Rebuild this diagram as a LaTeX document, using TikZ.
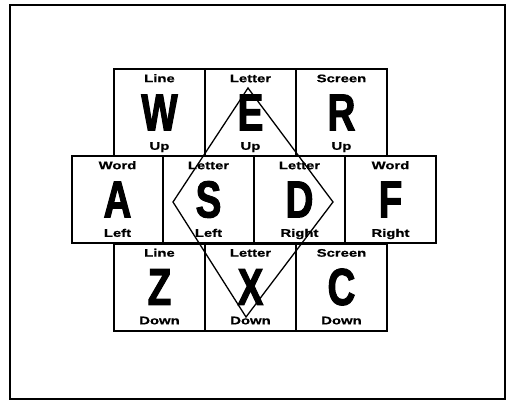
\documentclass[tikz,border=0pt]{standalone}
\usepackage{fontspec}
\setmainfont{Liberation Sans}
\newfontfamily\capfont[FakeStretch=0.74, FakeBold=2]{Liberation Sans Bold}
\newfontfamily\tagfont[FakeStretch=1.35, FakeBold=0.7]{Liberation Sans Bold}
\usetikzlibrary{positioning}

\begin{document}
\begin{tikzpicture}[x=1pt, y=-1pt,
  keycap/.style={rectangle, draw, line width=2pt, outer sep=0pt,
                 minimum width=91pt, minimum height=87pt, inner sep=0pt,
                 font=\capfont\fontsize{52}{52}\selectfont},
  tag/.style={inner sep=0pt, text height=8pt, text depth=2pt,
              font=\tagfont\fontsize{11}{11}\selectfont}
]
  \useasboundingbox (0,0) rectangle (507,402);
  \draw[line width=1.3pt] (10,5) rectangle (505,399);

  % top row
  \node[keycap] (w) at (159.5,112.5) {W};
  \node[keycap, right=0pt of w] (e) {E};
  \node[keycap, right=0pt of e] (r) {R};
  % home row
  \node[keycap] (a) at (117.5,199.5) {A};
  \node[keycap, right=0pt of a] (s) {S};
  \node[keycap, right=0pt of s] (d) {D};
  \node[keycap, right=0pt of d] (f) {F};
  % bottom row
  \node[keycap] (z) at (159.5,287) {Z};
  \node[keycap, right=0pt of z] (x) {X};
  \node[keycap, right=0pt of x] (c) {C};

  % what each key moves
  \node[tag, below=5pt of w.north] (wtop) {Line};
  \node[tag, above=4pt of w.south] (wbot) {Up};
  \node[tag, below=5pt of e.north] (etop) {Letter};
  \node[tag, above=4pt of e.south] (ebot) {Up};
  \node[tag, below=5pt of r.north] (rtop) {Screen};
  \node[tag, above=4pt of r.south] (rbot) {Up};
  \node[tag, below=5pt of a.north] (atop) {Word};
  \node[tag, above=4pt of a.south] (abot) {Left};
  \node[tag, below=5pt of s.north] (stop) {Letter};
  \node[tag, above=4pt of s.south] (sbot) {Left};
  \node[tag, below=5pt of d.north] (dtop) {Letter};
  \node[tag, above=4pt of d.south] (dbot) {Right};
  \node[tag, below=5pt of f.north] (ftop) {Word};
  \node[tag, above=4pt of f.south] (fbot) {Right};
  \node[tag, below=5pt of z.north] (ztop) {Line};
  \node[tag, above=4pt of z.south] (zbot) {Down};
  \node[tag, below=5pt of x.north] (xtop) {Letter};
  \node[tag, above=4pt of x.south] (xbot) {Down};
  \node[tag, below=5pt of c.north] (ctop) {Screen};
  \node[tag, above=4pt of c.south] (cbot) {Down};

  % diamond round the cursor keys
  \coordinate (dn) at (248,88);
  \coordinate (dw) at (173,202);
  \coordinate (ds) at (246,317);
  \coordinate (de) at (333,202);
  \draw[line width=1.3pt] (dn) -- (dw) -- (ds) -- (de) -- cycle;
\end{tikzpicture}
\end{document}
